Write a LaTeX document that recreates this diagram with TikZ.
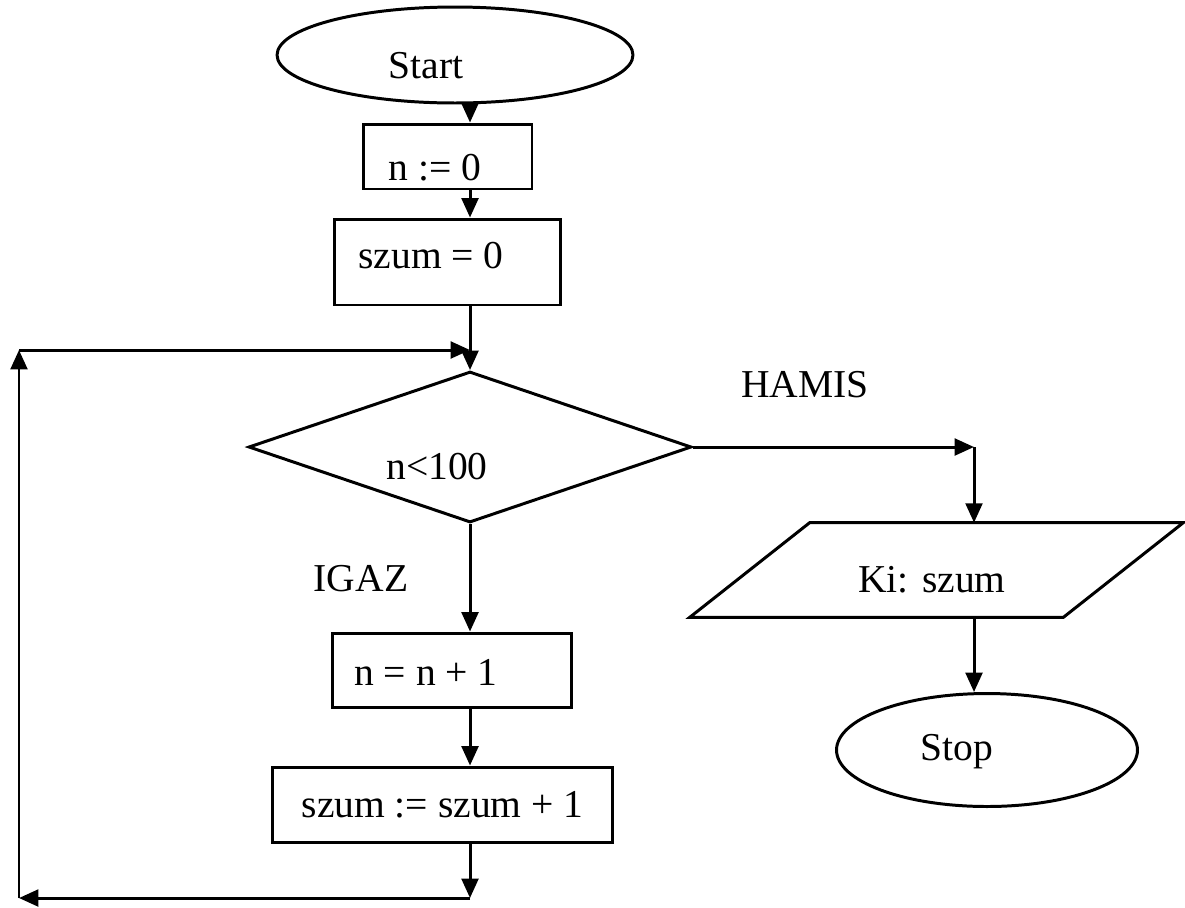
\documentclass[tikz,border=0pt]{standalone}
\usepackage{fontspec}
\setmainfont{Liberation Serif}
\usetikzlibrary{arrows.meta,shapes.geometric}
\tikzset{
  txt/.style={font=\fontsize{22.5}{27}\selectfont, inner sep=0pt, text=black},
  frame/.style={draw=black, line width=1.7pt, inner sep=0pt},
  procbox/.style={frame, rectangle},
  terminal/.style={frame, ellipse},
  decision/.style={frame, diamond},
  wire/.style={draw=black, line width=1.7pt, line join=miter},
  arr/.style={wire, -{Triangle[length=11pt,width=9.5pt]}},
}
\begin{document}
\begin{tikzpicture}[x=0.02cm,y=-0.02cm]
  \fill[white] (0,0) rectangle (1185,907);
  \useasboundingbox (0,0) rectangle (1185,907);

  % vertical axes of the two columns of arrows
  \coordinate (col) at (470,0);
  \coordinate (col2) at (974,0);

  % main column
  \node[terminal, minimum width=7.12cm, minimum height=1.92cm,
        label={[txt,xshift=-0.58cm,yshift=-0.22cm]center:Start}] (start) at (455,55) {};
  \node[procbox, minimum width=3.38cm, minimum height=1.3cm,
        label={[txt,xshift=-0.25cm,yshift=-0.23cm]center:n := 0}] (n0) at (447.5,156.5) {};
  \node[procbox, minimum width=4.54cm, minimum height=1.72cm,
        label={[txt,xshift=-0.33cm,yshift=0.12cm]center:szum = 0}] (sz0) at (447.5,262) {};
  \node[decision, minimum width=8.86cm, minimum height=3.02cm,
        label={[txt,xshift=-0.66cm,yshift=-0.4cm]center:n<100}] (dec) at (470,447) {};
  \node[procbox, minimum width=4.8cm, minimum height=1.48cm,
        label={[txt,xshift=-0.52cm,yshift=-0.04cm]center:n = n + 1}] (n1) at (452,670) {};
  \node[procbox, minimum width=6.82cm, minimum height=1.5cm,
        label={[txt]center:szum := szum + 1}] (s1) at (442.5,804.5) {};

  % output branch
  \node[inner sep=0pt, minimum width=9.86cm, minimum height=1.88cm,
        label={[txt,xshift=-0.09cm,yshift=-0.2cm]center:Ki: szum}] (ki) at (936.5,570) {};
  \draw[wire] (ki.south west) -- ([xshift=2.4cm]ki.north west) -- (ki.north east)
              -- ([xshift=-2.4cm]ki.south east) -- cycle;
  \node[terminal, minimum width=6.02cm, minimum height=2.26cm,
        label={[txt,xshift=-0.6cm,yshift=-0.04cm]center:Stop}] (stop) at (987,750) {};

  % branch labels
  \node[txt] (igaz) at (361,579) {IGAZ};
  \node[txt] (hamis) at (805,385) {HAMIS};

  % loop corners
  \coordinate (lb)  at (470,898);
  \coordinate (lbl) at (19,898);
  \coordinate (ltl) at (19,350);
  \coordinate (lt)  at (470,350);
  \coordinate (hcorner) at (dec.east -| col2);

  % connectors
  \draw[arr] (start.south -| col) -- (n0.north -| col);
  \draw[arr] (n0.south -| col) -- (sz0.north -| col);
  \draw[arr] (sz0.south -| col) -- (dec.north);
  \draw[arr] (dec.south) -- (n1.north -| col);
  \draw[arr] (n1.south -| col) -- (s1.north -| col);
  \draw[arr] (s1.south -| col) -- (lb);
  \draw[arr] (lb) -- (lbl);
  \draw[arr] (lbl) -- (ltl);
  \draw[arr] (ltl) -- (lt);
  \draw[arr] (dec.east) -- (hcorner);
  \draw[arr] (hcorner) -- (ki.north -| col2);
  \draw[arr] (ki.south -| col2) -- (stop.north -| col2);
\end{tikzpicture}
\end{document}
